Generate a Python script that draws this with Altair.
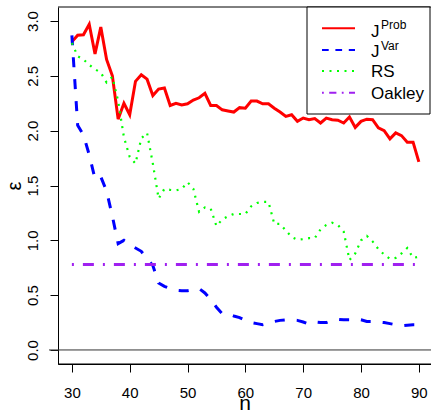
import altair as alt
import pandas as pd

FONT = "Liberation Sans"

n_vals = list(range(30, 91))

j_prob = [2.81, 2.87, 2.875, 2.97, 2.70, 2.945, 2.65, 2.50, 2.105, 2.25,
          2.145, 2.45, 2.51, 2.47, 2.32, 2.38, 2.39, 2.23, 2.25, 2.235,
          2.245, 2.28, 2.30, 2.34, 2.23, 2.23, 2.19, 2.18, 2.17, 2.21,
          2.205, 2.27, 2.27, 2.245, 2.245, 2.205, 2.17, 2.13, 2.145, 2.085,
          2.115, 2.10, 2.11, 2.07, 2.115, 2.10, 2.095, 2.07, 2.125, 2.03,
          2.085, 2.105, 2.10, 2.025, 2.0, 1.925, 1.98, 1.955, 1.895, 1.895,
          1.715]

j_var = [2.87, 2.05, 1.96, 1.78, 1.56, 1.58, 1.45, 1.22, 0.97, 1.00,
         0.96, 0.93, 0.90, 0.83, 0.77, 0.61, 0.58, 0.56, 0.545, 0.54,
         0.54, 0.55, 0.56, 0.52, 0.46, 0.39, 0.33, 0.33, 0.31, 0.295,
         0.27, 0.25, 0.24, 0.23, 0.24, 0.26, 0.27, 0.275, 0.275, 0.27,
         0.255, 0.235, 0.255, 0.25, 0.25, 0.27, 0.28, 0.275, 0.275, 0.285,
         0.275, 0.26, 0.26, 0.255, 0.25, 0.24, 0.23, 0.22, 0.225, 0.23,
         0.23]

rs = [2.80, 2.68, 2.65, 2.60, 2.56, 2.53, 2.44, 2.49, 2.27, 1.94,
      1.76, 1.70, 1.93, 1.98, 1.70, 1.38, 1.47, 1.46, 1.455, 1.47,
      1.53, 1.47, 1.26, 1.30, 1.29, 1.13, 1.19, 1.22, 1.24, 1.24,
      1.24, 1.31, 1.34, 1.35, 1.35, 1.15, 1.15, 1.09, 1.03, 1.005,
      1.01, 1.02, 1.02, 1.10, 1.14, 1.16, 1.14, 1.08, 0.82, 0.88,
      1.00, 1.04, 0.99, 0.92, 0.87, 0.83, 0.84, 0.88, 0.93, 0.84,
      0.85]

oakley_n = [30, 90]
oakley = [0.78, 0.78]

x_ticks = [30, 40, 50, 60, 70, 80, 90]
y_ticks = [0.0, 0.5, 1.0, 1.5, 2.0, 2.5, 3.0]

legend_main = ["J", "J", "RS", "Oakley"]
legend_sup = ["Prob", "Var", "", ""]

W, H = 373, 357

xs = alt.Scale(domain=[27.6, 92.1], nice=False, zero=False)
ys = alt.Scale(domain=[-0.128, 3.128], nice=False, zero=False)

xaxis = alt.Axis(values=x_ticks, title="n", grid=False, domain=True,
                 domainColor="black", domainWidth=1,
                 tickColor="black", tickSize=8, labelFontSize=15, labelFont=FONT,
                 labelColor="black", labelBaseline="alphabetic", labelPadding=25,
                 labelFlush=False, labelOverlap=False,
                 titleFont=FONT, titleFontSize=21, titleFontWeight="normal",
                 titleColor="black", titleBaseline="alphabetic", titleY=45)
yaxis = alt.Axis(values=y_ticks, format=".1f", title="ε", grid=False, domain=True,
                 domainColor="black", domainWidth=1, tickColor="black", tickSize=8,
                 labelFontSize=15, labelFont=FONT, labelColor="black",
                 labelAngle=270, labelAlign="center", labelBaseline="alphabetic",
                 labelPadding=13, labelFlush=False, labelOverlap=False,
                 titleFont=FONT, titleFontSize=20, titleFontWeight="normal",
                 titleColor="black", titleAngle=270, titleAlign="center",
                 titleBaseline="middle", titleX=-44, titleY=178.5)


def series_df(xv, yv):
    return pd.DataFrame({"n": xv, "v": yv})


def line(df, color, width, dash=None, cap="butt"):
    kw = dict(color=color, strokeWidth=width, strokeCap=cap)
    if dash:
        kw["strokeDash"] = dash
    return alt.Chart(df).mark_line(**kw).encode(
        x=alt.X("n:Q", scale=xs, axis=xaxis),
        y=alt.Y("v:Q", scale=ys, axis=yaxis),
    )


red = line(series_df(n_vals, j_prob), "#FF0000", 3)
blue = line(series_df(n_vals, j_var), "#0000FF", 3, [10, 12])
green = line(series_df(n_vals, rs), "#00FF00", 2.2, [2, 5.5])
purple = line(series_df(oakley_n, oakley), "#A020F0", 3, [2, 9, 11, 9])

one = pd.DataFrame({"a": [0]})

zero_line = alt.Chart(pd.DataFrame({"v": [0.0]})).mark_rule(
    color="#333333", strokeWidth=1).encode(
    y=alt.Y("v:Q", scale=ys, axis=yaxis), x=alt.value(-9), x2=alt.value(W))

top_border = alt.Chart(one).mark_rule(color="black", strokeWidth=1).encode(
    y=alt.value(0), x=alt.value(0), x2=alt.value(W))
bottom_border = alt.Chart(one).mark_rule(color="black", strokeWidth=1).encode(
    y=alt.value(H), x=alt.value(0), x2=alt.value(W))

leg_box = alt.Chart(one).mark_rect(fill="white", stroke="black", strokeWidth=1).encode(
    x=alt.value(249), x2=alt.value(W - 1), y=alt.value(0), y2=alt.value(107))

leg_y = [21.3, 43, 64, 85.7]
leg_styles = [("#FF0000", None), ("#0000FF", [6.7, 6.7]),
              ("#00FF00", [2, 5.5]), ("#A020F0", [1.8, 5.4, 7.2, 5.4])]
leg_layers = [leg_box]
for yy, (col, dash) in zip(leg_y, leg_styles):
    kw = dict(color=col, strokeWidth=2)
    if dash:
        kw["strokeDash"] = dash
    leg_layers.append(alt.Chart(one).mark_rule(**kw).encode(
        x=alt.value(264), x2=alt.value(297), y=alt.value(yy)))

main_base = [29.7, 50.3, 69.7, 92.0]
sup_base = [22.0, 43.0]
for i, txt in enumerate(legend_main):
    leg_layers.append(alt.Chart(one).mark_text(
        text=txt, font=FONT, fontSize=17, align="left", baseline="alphabetic",
        color="black").encode(x=alt.value(313), y=alt.value(main_base[i])))
    if legend_sup[i]:
        leg_layers.append(alt.Chart(one).mark_text(
            text=legend_sup[i], font=FONT, fontSize=12, align="left",
            baseline="alphabetic", color="black").encode(
            x=alt.value(323), y=alt.value(sup_base[i])))

chart = alt.layer(red, blue, green, purple, zero_line, top_border, bottom_border,
                  *leg_layers).properties(
    width=W, height=H,
    padding={"left": 58, "top": 7, "right": 0, "bottom": 50},
    autosize=alt.AutoSizeParams(type="none"),
    background="white",
).configure_view(stroke=None)

chart.save("out.html", embed_options={"renderer": "svg", "actions": False})
